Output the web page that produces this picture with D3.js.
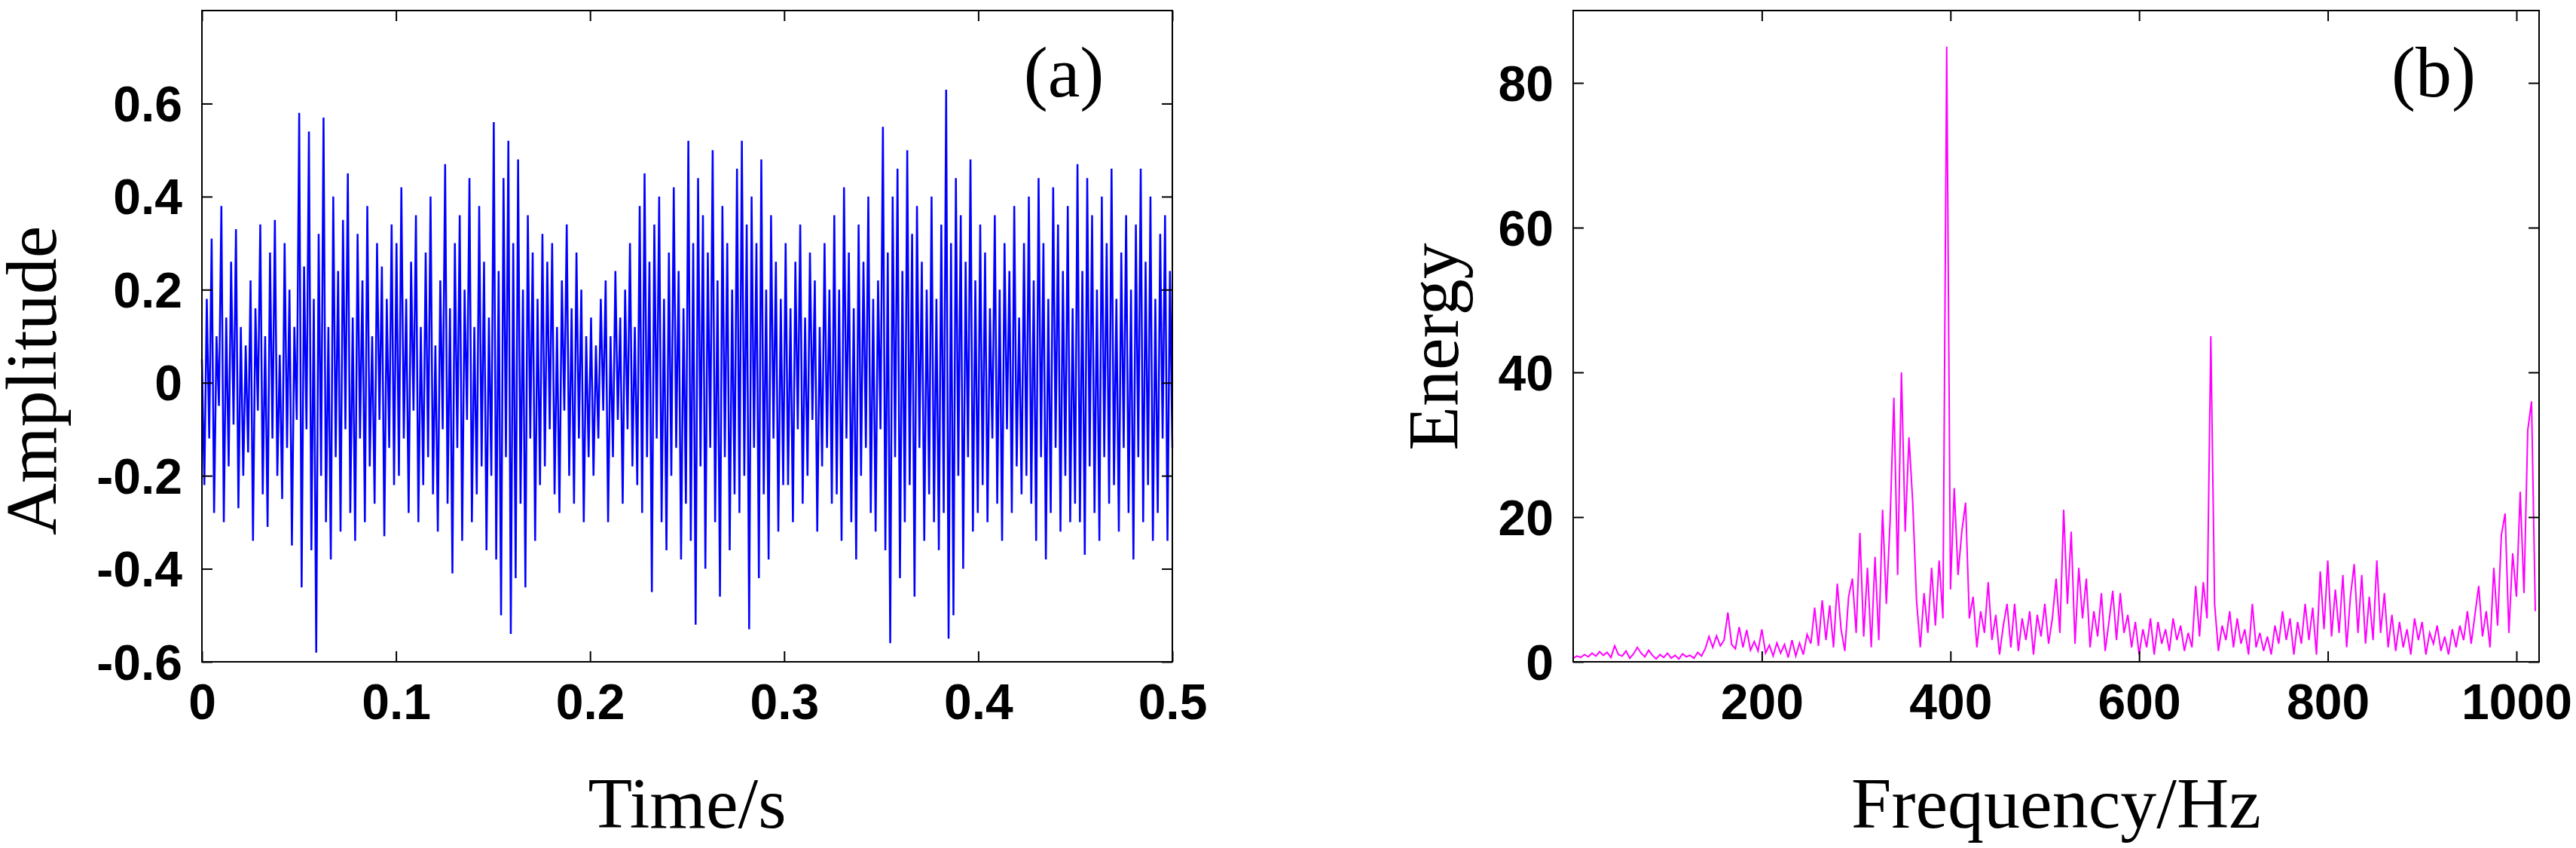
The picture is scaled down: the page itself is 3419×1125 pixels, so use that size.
<!DOCTYPE html>
<html>
<head>
<meta charset="utf-8">
<script src="https://cdn.jsdelivr.net/npm/d3@7"></script>
<style>
body{margin:0;background:#fff;}
.tick text{font-family:"Liberation Sans",Arial,sans-serif;font-weight:bold;font-size:66px;fill:#000;}
.title{font-family:"Liberation Serif","Times New Roman",serif;font-size:96px;fill:#000;}
</style>
</head>
<body>
<script>
// time signal, 400 samples over 0..0.5 s
var amplitude = [
 0.05,-0.22,0.18,-0.12,0.31,-0.28,0.10,-0.05,0.38,-0.30,0.14,-0.18,0.26,-0.09,0.33,-0.27,0.12,-0.20,0.08,-0.15,
 0.22,-0.34,0.16,-0.06,0.34,-0.24,0.10,-0.31,0.28,-0.12,0.35,-0.20,0.06,-0.25,0.30,-0.14,0.20,-0.35,0.12,-0.08,
 0.58,-0.44,0.25,-0.10,0.54,-0.36,0.18,-0.58,0.32,-0.20,0.57,-0.30,0.12,-0.38,0.40,-0.16,0.24,-0.32,0.35,-0.10,
 0.45,-0.28,0.14,-0.34,0.32,-0.12,0.22,-0.30,0.38,-0.18,0.10,-0.26,0.30,-0.08,0.25,-0.33,0.18,-0.14,0.34,-0.22,
 0.30,-0.20,0.42,-0.12,0.18,-0.28,0.26,-0.06,0.36,-0.30,0.12,-0.22,0.28,-0.16,0.40,-0.24,0.08,-0.32,0.22,-0.10,
 0.47,-0.26,0.16,-0.41,0.30,-0.14,0.36,-0.34,0.20,-0.08,0.44,-0.30,0.12,-0.24,0.38,-0.18,0.26,-0.36,0.14,-0.20,
 0.56,-0.38,0.24,-0.50,0.44,-0.16,0.52,-0.54,0.30,-0.42,0.48,-0.26,0.20,-0.44,0.36,-0.12,0.28,-0.34,0.18,-0.22,
 0.32,-0.18,0.26,-0.10,0.30,-0.24,0.12,-0.28,0.22,-0.06,0.34,-0.20,0.16,-0.26,0.28,-0.12,0.20,-0.30,0.10,-0.16,
 0.14,-0.20,0.08,-0.12,0.18,-0.06,0.22,-0.30,0.10,-0.16,0.24,-0.08,0.14,-0.26,0.20,-0.10,0.30,-0.18,0.12,-0.22,
 0.38,-0.28,0.45,-0.16,0.26,-0.45,0.34,-0.12,0.40,-0.30,0.18,-0.36,0.28,-0.20,0.42,-0.14,0.24,-0.38,0.16,-0.26,
 0.52,-0.34,0.30,-0.52,0.44,-0.18,0.36,-0.40,0.28,-0.14,0.50,-0.30,0.22,-0.46,0.38,-0.16,0.30,-0.36,0.20,-0.24,
 0.46,-0.28,0.52,-0.20,0.34,-0.53,0.40,-0.14,0.30,-0.42,0.48,-0.24,0.20,-0.38,0.36,-0.12,0.26,-0.32,0.18,-0.22,
 0.30,-0.22,0.16,-0.30,0.26,-0.10,0.34,-0.26,0.14,-0.20,0.28,-0.08,0.22,-0.32,0.12,-0.18,0.30,-0.14,0.20,-0.26,
 0.36,-0.24,0.20,-0.34,0.42,-0.12,0.28,-0.30,0.16,-0.38,0.34,-0.20,0.26,-0.14,0.40,-0.28,0.18,-0.32,0.22,-0.10,
 0.55,-0.36,0.28,-0.56,0.40,-0.16,0.46,-0.42,0.24,-0.30,0.50,-0.22,0.32,-0.46,0.38,-0.14,0.26,-0.34,0.20,-0.24,
 0.40,-0.30,0.18,-0.36,0.34,-0.28,0.63,-0.55,0.30,-0.50,0.44,-0.20,0.36,-0.40,0.26,-0.16,0.48,-0.32,0.22,-0.28,
 0.34,-0.22,0.28,-0.30,0.16,-0.12,0.36,-0.26,0.20,-0.34,0.30,-0.10,0.24,-0.28,0.38,-0.18,0.14,-0.24,0.30,-0.20,
 0.40,-0.26,0.22,-0.34,0.44,-0.16,0.30,-0.38,0.18,-0.28,0.42,-0.14,0.34,-0.32,0.24,-0.20,0.38,-0.30,0.16,-0.26,
 0.47,-0.30,0.24,-0.37,0.44,-0.18,0.36,-0.28,0.20,-0.34,0.40,-0.16,0.30,-0.26,0.46,-0.22,0.18,-0.32,0.28,-0.14,
 0.36,-0.28,0.20,-0.38,0.34,-0.16,0.46,-0.30,0.26,-0.22,0.40,-0.34,0.18,-0.28,0.32,-0.12,0.36,-0.34,0.24,-0.14
];
// energy spectrum, 256 bins over 0..1024 Hz
var energy = [
 0.5,0.8,0.6,1.0,0.7,1.2,0.8,1.4, 0.9,1.3,0.6,2.2,1.0,0.8,1.5,0.5,
 1.1,2.0,1.2,0.7,1.6,0.9,0.4,1.0, 0.6,1.2,0.5,0.9,0.4,1.1,0.7,0.9,
 0.5,1.3,0.8,1.8,3.5,2.0,3.6,2.2, 3.0,6.8,2.4,1.8,4.8,2.0,4.4,1.6,
 2.8,1.5,4.5,1.2,2.3,0.8,2.6,1.2, 2.4,0.6,3.0,0.8,2.6,1.0,3.8,2.5,
 7.5,2.2,8.5,3.0,7.8,2.0,10.8,4.5, 1.5,9.0,11.5,4.0,17.8,3.5,13.0,2.0,
 14.5,3.0,21.0,8.0,19.5,36.5,12.0,40.0, 18.0,31.0,22.0,8.5,2.0,9.5,4.0,13.0,
 5.0,14.0,6.0,85.0,10.0,24.0,12.0,18.0, 22.0,6.0,9.0,2.0,7.0,4.0,11.0,3.0,
 6.5,1.0,5.0,8.0,2.0,8.0,1.5,6.0, 3.0,7.0,1.0,6.5,3.5,8.0,2.5,6.0,
 11.5,4.0,21.0,8.0,18.0,2.5,13.0,6.0, 11.5,2.0,7.0,3.5,9.5,1.5,5.5,9.8,
 3.0,9.5,4.0,6.5,2.0,5.5,1.0,4.5, 2.0,6.0,1.0,5.5,2.5,4.5,1.5,6.0,
 3.0,5.0,1.5,4.0,2.0,10.5,3.5,11.0, 6.0,45.0,8.0,1.5,5.0,3.0,7.0,2.0,
 6.0,2.5,4.5,1.0,8.0,2.0,4.0,1.5, 3.5,1.0,5.0,2.5,7.0,3.0,6.0,1.0,
 5.5,2.5,8.0,3.0,7.5,1.0,12.5,4.5, 14.0,3.5,10.0,4.0,12.0,2.0,9.0,13.5,
 4.0,12.0,2.5,9.0,3.0,14.0,4.0,9.5, 2.0,6.5,1.5,5.5,2.0,4.5,1.0,6.0,
 3.0,5.5,1.0,4.0,2.5,5.0,1.5,3.5, 1.0,4.5,2.0,5.0,3.0,7.0,2.5,6.5,
 10.5,3.5,7.0,2.0,13.0,5.0,17.5,20.5, 4.0,15.0,9.0,23.5,9.5,32.0,36.0,7.0
];
var timeTicks = [0, 0.1, 0.2, 0.3, 0.4, 0.5];
var ampTicks = [-0.6, -0.4, -0.2, 0, 0.2, 0.4, 0.6];
var freqTicks = [200, 400, 600, 800, 1000];
var energyTicks = [0, 20, 40, 60, 80];

var width = 3419, height = 1125;
var svg = d3.select('body').append('svg')
	.attr('width', width).attr('height', height);

var plotTop = 14, plotBottom = 878;

function fmt1(d){ return d === 0 ? '0' : d.toFixed(1); }

function panel(o){
	var g = svg.append('g');
	var x = d3.scaleLinear().domain(o.xd).range([o.left, o.right]);
	var y = d3.scaleLinear().domain(o.yd).range([plotBottom, plotTop]);
	var xi = d3.scaleLinear().domain([0, o.data.length - 1]).range(o.xr);

	var line = d3.line()
		.x(function(d, i){ return x(xi(i)); })
		.y(function(d){ return y(d); });
	g.append('path').datum(o.data)
		.attr('d', line)
		.attr('fill', 'none')
		.attr('stroke', o.color)
		.attr('stroke-width', o.sw);

	var ax = [
		d3.axisBottom(x).tickValues(o.xt).tickSize(-14).tickPadding(28).tickFormat(o.xf),
		d3.axisLeft(y).tickValues(o.yt).tickSize(-14).tickPadding(26).tickFormat(o.yf),
		d3.axisTop(x).tickValues(o.xt).tickSize(-14).tickFormat(''),
		d3.axisRight(y).tickValues(o.yt).tickSize(-14).tickFormat('')
	];
	var tr = ['translate(0,' + plotBottom + ')', 'translate(' + o.left + ',0)',
		'translate(0,' + plotTop + ')', 'translate(' + o.right + ',0)'];
	ax.forEach(function(a, i){
		var ag = g.append('g').attr('transform', tr[i]).call(a);
		ag.select('.domain').remove();
		ag.selectAll('line').attr('stroke', '#000').attr('stroke-width', 2);
		ag.selectAll('text').attr('dy', null)
			.attr('dominant-baseline', i === 0 ? 'hanging' : 'central');
	});
	g.append('rect').attr('x', o.left).attr('y', plotTop)
		.attr('width', o.right - o.left).attr('height', plotBottom - plotTop)
		.attr('fill', 'none').attr('stroke', '#000').attr('stroke-width', 2);

	g.append('text').attr('class', 'title')
		.attr('x', (o.left + o.right) / 2).attr('y', 1098)
		.attr('text-anchor', 'middle').text(o.xlabel);
	g.append('text').attr('class', 'title')
		.attr('transform', 'translate(' + o.ylx + ',' + o.yly + ') rotate(-90)')
		.attr('text-anchor', 'middle').text(o.ylabel);
	g.append('text').attr('class', 'title')
		.attr('x', o.tagx).attr('y', 128)
		.attr('text-anchor', 'middle').text(o.tag);
}

panel({
	left: 268, right: 1556, xd: [0, 0.5], yd: [-0.6, 0.8], xr: [0, 0.5],
	data: amplitude, color: '#0000ff', sw: 2.5,
	xt: timeTicks, yt: ampTicks,
	xf: fmt1, yf: fmt1,
	xlabel: 'Time/s', ylabel: 'Amplitude', ylx: 74, yly: 505,
	tag: '(a)', tagx: 1412
});
panel({
	left: 2088, right: 3370, xd: [0, 1024], yd: [0, 90], xr: [0, 1020],
	data: energy, color: '#ff00ff', sw: 2,
	xt: freqTicks, yt: energyTicks,
	xf: d3.format('d'), yf: d3.format('d'),
	xlabel: 'Frequency/Hz', ylabel: 'Energy', ylx: 1935, yly: 460,
	tag: '(b)', tagx: 3230
});
</script>
</body>
</html>
